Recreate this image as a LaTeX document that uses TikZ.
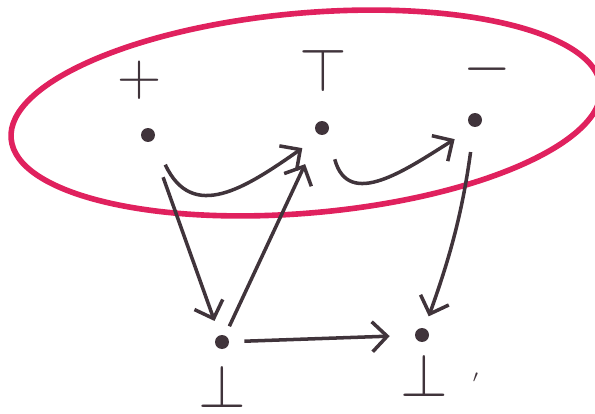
\documentclass[tikz,border=0pt]{standalone}
\usepackage{xcolor}
\usetikzlibrary{arrows.meta}
\definecolor{marker-ink}{HTML}{40343B}
\definecolor{marker-red}{HTML}{E0215E}

\begin{document}
\begin{tikzpicture}[x=0.02cm, y=0.02cm,
    dot/.style={circle, fill=marker-ink, inner sep=0pt, minimum size=0.28cm},
    sym/.style={font=\Huge, scale=1.4, text=marker-ink},
    link/.style={-{Straight Barb[length=3mm,width=6mm]}, line width=2pt, color=marker-ink}]
    \useasboundingbox (0,0) rectangle (595,413);
    % the ring round the upper row
    \draw[marker-red, line width=3.2pt, rotate around={5:(306,300)}]
      (306,300) ellipse [x radius=296, y radius=100];
    % upper row
    \node[dot] (plus) at (148,278) {};
    \node[dot] (top) at (322,285) {};
    \node[dot] (minus) at (475,293) {};
    \node[sym] (plus-lbl) at (140,333) {$+$};
    \node[sym] (top-lbl) at (323,343) {$\top$};
    \node[sym] (minus-lbl) at (487,344) {$-$};
    % lower row
    \node[dot] (botl) at (222,71) {};
    \node[dot] (botr) at (422,78) {};
    \node[sym] (botl-lbl) at (222,27) {$\bot$};
    \node[sym] (botr-lbl) at (440,38) {$\bot$\hspace{.4em}\raisebox{.2ex}{\normalsize$'$}};
    % arrows
    \draw[link, shorten <=0.75cm, shorten >=0.3cm] (plus) -- (botl);
    \draw[link, shorten <=0.2cm, shorten >=0.65cm] (botl) -- (top);
    \draw[link, shorten <=0.3cm, shorten >=0.5cm] (botl) -- (botr);
    \draw[link, shorten <=0.5cm, shorten >=0.25cm] (minus) to[bend left=6] (botr);
    \draw[link, shorten <=0.55cm, shorten >=0.45cm] (plus.-40) to[out=-65,in=-145,looseness=1.4] (top.-100);
    \draw[link, shorten <=0.55cm, shorten >=0.45cm] (top.-40) to[out=-75,in=-148,looseness=1.4] (minus.-100);
  \end{tikzpicture}
\end{document}
